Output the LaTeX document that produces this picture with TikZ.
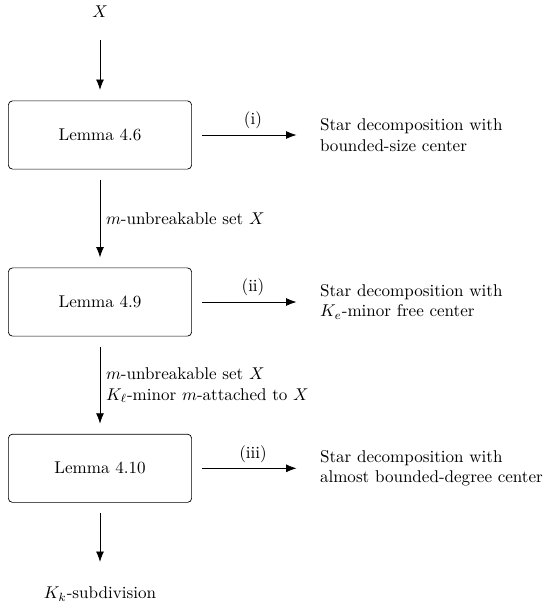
\documentclass[tikz,border=0pt]{standalone}
\usetikzlibrary{arrows.meta}
\begin{document}
\begin{tikzpicture}[x=0.5865pt,y=-0.5865pt,
  lemmabox/.style={draw, rounded corners=2.4pt, minimum width=107.5pt, minimum height=40pt},
  flow/.style={-{Latex[length=6pt,width=4.6pt]}, shorten >=6pt, shorten <=6pt},
  result/.style={anchor=west, align=left}]
\useasboundingbox (0,0) rectangle (545,607);
% nodes
\node (X) at (100,12) {$X$};
\node[lemmabox] (b1) at (100,135) {Lemma 4.6};
\node[lemmabox] (b2) at (100,302) {Lemma 4.9};
\node[lemmabox] (b3) at (100,468.3) {Lemma 4.10};
\node (K) at (100,594) {$K_k$-subdivision};
\node[result] (r1) at (314,135) {Star decomposition with\\bounded-size center};
\node[result] (r2) at (314,302) {Star decomposition with\\$K_e$-minor free center};
\node[result] (r3) at (314,468.3) {Star decomposition with\\almost bounded-degree center};
% vertical connectors
\draw[flow, shorten <=9.7pt, shorten >=6.3pt] (X) -- (b1);
\draw[flow] (b1) -- node[right] {$m$-unbreakable set $X$} (b2);
\draw[flow] (b2) -- node[right, align=left] {$m$-unbreakable set $X$\\$K_\ell$-minor $m$-attached to $X$} (b3);
\draw[flow, shorten >=11.1pt] (b3) -- (K);
% horizontal connectors
\draw[flow, shorten >=10.3pt] (b1) -- node[above] {(i)} (r1);
\draw[flow, shorten >=10.3pt] (b2) -- node[above] {(ii)} (r2);
\draw[flow, shorten >=10.3pt] (b3) -- node[above] {(iii)} (r3);
\end{tikzpicture}
\end{document}
